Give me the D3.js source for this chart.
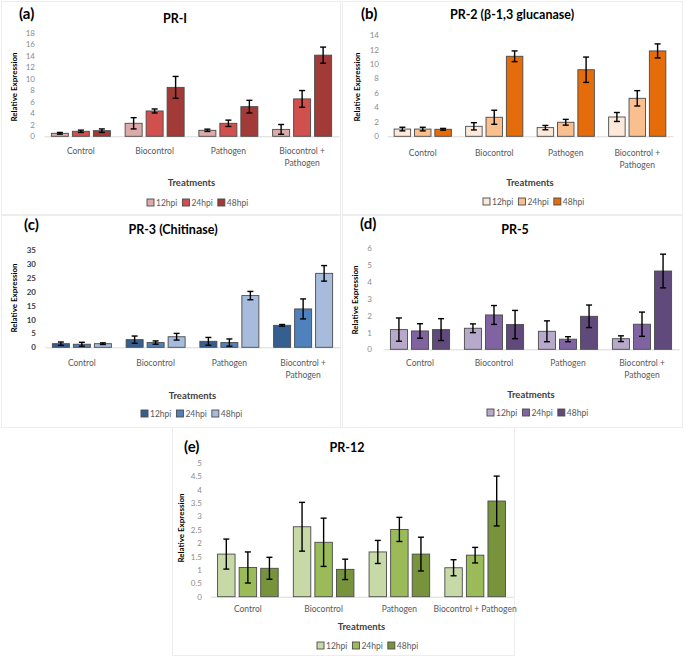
<!DOCTYPE html>
<html><head><meta charset="utf-8">
<script src="https://cdn.jsdelivr.net/npm/d3@7"></script>
<style>body{margin:0;background:#fff}svg{display:block}text{font-family:Lato,"Open Sans",sans-serif}</style>
</head><body><svg id="c" width="685" height="656"></svg>
<script>
const categories = ["Control", "Biocontrol", "Pathogen", "Biocontrol + Pathogen"];
const seriesNames = ["12hpi", "24hpi", "48hpi"];

// PR-I
const pr1Mean = [[0.52, 2.26, 1.04, 1.2], [0.87, 4.4, 2.26, 6.5], [0.98, 8.5, 5.15, 14.1]];
const pr1Err  = [[0.15, 0.98, 0.2, 0.85], [0.2, 0.35, 0.55, 1.45], [0.3, 1.9, 1.1, 1.4]];
const pr1Ticks = [0, 2, 4, 6, 8, 10, 12, 14, 16, 18];
// PR-2
const pr2Mean = [[1.0, 1.38, 1.2, 2.67], [1.0, 2.63, 1.94, 5.25], [0.97, 11.06, 9.2, 11.8]];
const pr2Err  = [[0.25, 0.5, 0.3, 0.62], [0.25, 0.97, 0.4, 1.06], [0.12, 0.74, 1.75, 0.97]];
const pr2Ticks = [0, 2, 4, 6, 8, 10, 12, 14];
// PR-3
const pr3Mean = [[1.3, 2.75, 2.15, 7.9], [1.1, 1.7, 1.7, 13.8], [1.3, 3.8, 18.6, 26.6]];
const pr3Err  = [[0.6, 1.3, 1.4, 0.3], [0.7, 0.6, 1.3, 3.6], [0.3, 1.2, 1.5, 2.8]];
const pr3Ticks = [0, 5, 10, 15, 20, 25, 30, 35];
// PR-5
const pr5Mean = [[1.17, 1.25, 1.07, 0.63], [1.09, 2.04, 0.6, 1.49], [1.17, 1.47, 1.96, 4.65]];
const pr5Err  = [[0.69, 0.26, 0.62, 0.17], [0.43, 0.56, 0.15, 0.72], [0.65, 0.84, 0.67, 1.0]];
const pr5Ticks = [0, 1, 2, 3, 4, 5, 6];
// PR-12
const pr12Mean = [[1.59, 2.61, 1.67, 1.08], [1.09, 2.03, 2.51, 1.55], [1.06, 1.02, 1.59, 3.57]];
const pr12Err  = [[0.56, 0.91, 0.43, 0.3], [0.58, 0.9, 0.45, 0.29], [0.41, 0.38, 0.63, 0.93]];
const pr12Ticks = [0, 0.5, 1, 1.5, 2, 2.5, 3, 3.5, 4, 4.5, 5];

const svg = d3.select("#c");

const panels = [
  {tag:"(a)", title:"PR-I", mean:pr1Mean, err:pr1Err, ticks:pr1Ticks, colors:["#dcaaa8","#d0504e","#a23a37"],
   box:[1,1,339,213], xr:[44,339], yr:[136.3,32.7], tagX:19, tagY:19, titleX:175, titleY:23, tickX:35,
   ylX:14, ylY:87, catY:154, wrap:true, trY:186, legX:147, legY:206, tickColor:"#8c8c8c"},
  {tag:"(b)", title:"PR-2 (β-1,3 glucanase)", mean:pr2Mean, err:pr2Err, ticks:pr2Ticks, colors:["#fde9d9","#f9bf8f","#e46c0a"],
   box:[342,1,340,213], xr:[387,673], yr:[136.3,35], tagX:361, tagY:19, titleX:512, titleY:19, tickX:379,
   ylX:357, ylY:87, catY:156, wrap:true, trY:186, legX:483, legY:205, tickColor:"#8c8c8c"},
  {tag:"(c)", title:"PR-3 (Chitinase)", mean:pr3Mean, err:pr3Err, ticks:pr3Ticks, colors:["#365f91","#4f81bd","#a7bcdc"],
   box:[1,215,339,212], xr:[45,340], yr:[347.3,250], tagX:24, tagY:230, titleX:173, titleY:234, tickX:36,
   ylX:14, ylY:298, catY:366, wrap:true, trY:399, legX:141, legY:417, tickColor:"#404040"},
  {tag:"(d)", title:"PR-5", mean:pr5Mean, err:pr5Err, ticks:pr5Ticks, colors:["#b7a9c9","#8064a2","#604a7b"],
   box:[342,215,340,212], xr:[383,679], yr:[349.3,248.3], tagX:360, tagY:229, titleX:515, titleY:234, tickX:372,
   ylX:355, ylY:300, catY:366, wrap:true, trY:398, legX:487, legY:416, tickColor:"#8c8c8c"},
  {tag:"(e)", title:"PR-12", mean:pr12Mean, err:pr12Err, ticks:pr12Ticks, colors:["#c8d9a8","#9bbb59","#77933c"],
   box:[172,427,342,228], xr:[210,513], yr:[596.7,462.7], tagX:184, tagY:452, titleX:347, titleY:452, tickX:202,
   ylX:181, ylY:528, catY:612, wrap:false, trY:630, legX:317, legY:649, tickColor:"#8c8c8c"}
];

panels.forEach(p => {
  const g = svg.append("g");
  g.append("rect").attr("x", p.box[0]+0.5).attr("y", p.box[1]+0.5).attr("width", p.box[2]).attr("height", p.box[3])
    .attr("fill", "none").attr("stroke", "#ededed").attr("stroke-width", 1);

  const x = d3.scaleBand().domain(categories).range(p.xr).padding(0);
  const gw = x.bandwidth() * 0.8;
  const xs = d3.scaleBand().domain(seriesNames).range([(x.bandwidth()-gw)/2, (x.bandwidth()+gw)/2]).paddingInner(0.19).paddingOuter(0);
  const y = d3.scaleLinear().domain([p.ticks[0], p.ticks[p.ticks.length-1]]).range(p.yr);

  const ya = g.append("g").attr("transform", `translate(${p.tickX + 3},0)`)
    .call(d3.axisLeft(y).tickValues(p.ticks).tickSize(0).tickPadding(3).tickFormat(d3.format("")));
  ya.select(".domain").remove();
  ya.selectAll("text").attr("font-size", 8).attr("fill", p.tickColor).attr("font-family", "Lato, sans-serif")
    .attr("font-weight", p.tag === "(c)" ? 700 : 400);

  const xa = g.append("g").attr("transform", `translate(0,${p.yr[0]})`)
    .call(d3.axisBottom(x).tickSize(0).tickFormat(""));
  xa.select(".domain").attr("stroke", "#d9d9d9").attr("stroke-width", 1);

  seriesNames.forEach((s, si) => {
    categories.forEach((c, ci) => {
      const v = p.mean[si][ci], e = p.err[si][ci];
      const bx = x(c) + xs(s), bw = xs.bandwidth();
      g.append("rect").attr("x", bx).attr("y", y(v)).attr("width", bw).attr("height", y(0) - y(v))
        .attr("fill", p.colors[si]).attr("stroke", "#4a4a4a").attr("stroke-width", 0.9);
      const cx = bx + bw/2;
      const eg = g.append("g").attr("stroke", "#000").attr("stroke-width", 1.4);
      eg.append("line").attr("x1", cx).attr("x2", cx).attr("y1", y(v+e)).attr("y2", y(Math.max(0, v-e)));
      eg.append("line").attr("x1", cx-3).attr("x2", cx+3).attr("y1", y(v+e)).attr("y2", y(v+e));
      eg.append("line").attr("x1", cx-3).attr("x2", cx+3).attr("y1", y(Math.max(0, v-e))).attr("y2", y(Math.max(0, v-e)));
    });
  });

  categories.forEach(c => {
    const cx = x(c) + x.bandwidth()/2;
    const t = g.append("text").attr("x", cx).attr("y", p.catY).attr("text-anchor", "middle")
      .attr("font-size", 8.5).attr("fill", "#595959");
    if (p.wrap && c === "Biocontrol + Pathogen") {
      t.append("tspan").attr("x", cx).attr("dy", 0).text("Biocontrol +");
      t.append("tspan").attr("x", cx).attr("dy", 12).text("Pathogen");
    } else t.text(c);
  });

  g.append("text").attr("x", p.tagX).attr("y", p.tagY).attr("font-size", 15).attr("font-weight", 700)
    .attr("fill", "#000").text(p.tag);
  g.append("text").attr("x", p.titleX).attr("y", p.titleY).attr("text-anchor", "middle").attr("font-size", 12.5)
    .attr("font-weight", 700).attr("fill", "#000").text(p.title);
  g.append("text").attr("transform", `translate(${p.ylX + 3},${p.ylY}) rotate(-90)`).attr("text-anchor", "middle")
    .attr("font-size", 8).attr("font-weight", 700).attr("fill", "#000").text("Relative Expression");
  g.append("text").attr("x", (p.xr[0]+p.xr[1])/2).attr("y", p.trY).attr("text-anchor", "middle")
    .attr("font-size", 9.5).attr("font-weight", 700).attr("fill", "#404040").text("Treatments");

  let lx = p.legX;
  seriesNames.forEach((s, si) => {
    g.append("rect").attr("x", lx).attr("y", p.legY - 7).attr("width", 7).attr("height", 7)
      .attr("fill", p.colors[si]).attr("stroke", "#4a4a4a").attr("stroke-width", 0.9);
    const t = g.append("text").attr("x", lx + 9).attr("y", p.legY).attr("font-size", 8.5).attr("fill", "#595959").text(s);
    lx += 9 + t.node().getComputedTextLength() + 5;
  });
});
</script></body></html>
